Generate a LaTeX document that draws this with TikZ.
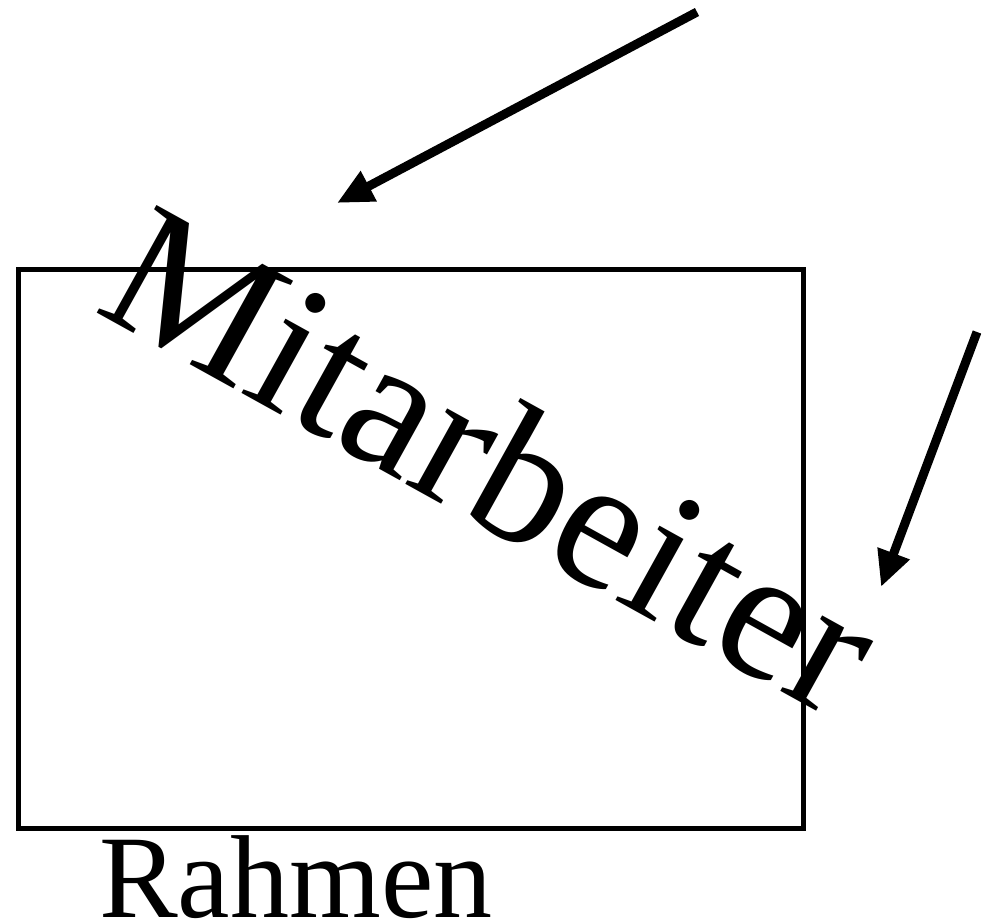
\documentclass[tikz,border=0pt]{standalone}
\usepackage{fontspec}
\setmainfont{Liberation Serif}
\usetikzlibrary{arrows.meta}
\begin{document}
\begin{tikzpicture}[x=1pt,y=-1pt,
  pfeil/.style={line width=9pt,-{Triangle[length=36pt,width=32pt]}},
  rahmenbox/.style={draw,line width=4.5pt,minimum width=785pt,minimum height=559pt,inner sep=0pt}]
\useasboundingbox (0,0) rectangle (986,922);
\node[rahmenbox,anchor=north west] (box) at (16,267) {};
\node[anchor=base west,inner sep=0pt,rotate=-29,font=\fontsize{188}{188}\selectfont] (mit) at (92,310) {Mitarbeiter};
\node[anchor=base west,inner sep=0pt,font=\fontsize{118}{120}\selectfont] (rah) at (99,917) {Rahmen};
\coordinate (a1s) at (697,12);
\coordinate (a1e) at (337,203);
\coordinate (a2s) at (977,332);
\coordinate (a2e) at (881,587);
\draw[pfeil] (a1s) -- (a1e);
\draw[pfeil] (a2s) -- (a2e);
\end{tikzpicture}
\end{document}
